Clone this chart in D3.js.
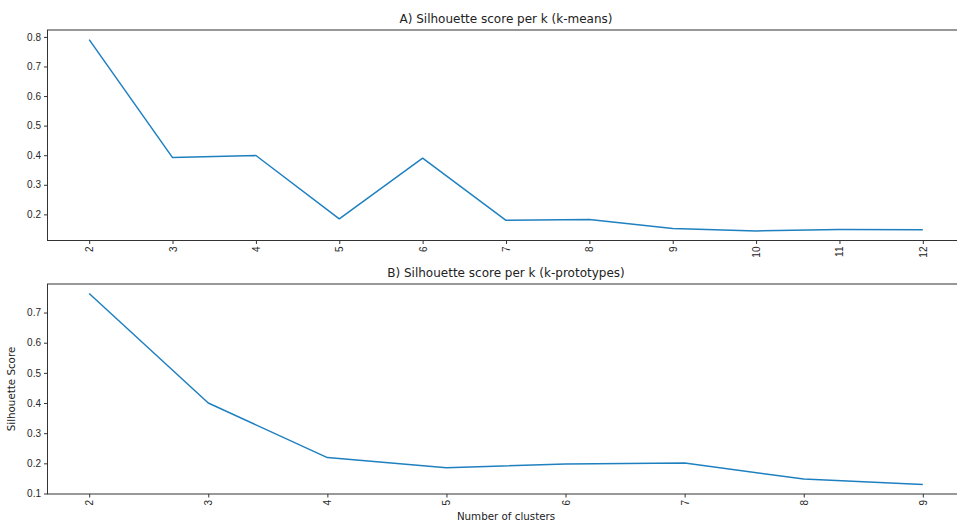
<!DOCTYPE html>
<html>
<head>
<meta charset="utf-8">
<style>
  body { margin: 0; background: #fff; }
  svg { display: block; font-family: "DejaVu Sans", sans-serif; }
  .tick text { fill: #262626; }
</style>
</head>
<body>
<svg id="chart" width="957" height="523"></svg>
<script src="https://cdn.jsdelivr.net/npm/d3@7/dist/d3.min.js"></script>
<script>

// A) k-means
var kmeansK = [2, 3, 4, 5, 6, 7, 8, 9, 10, 11, 12];
var kmeansScore = [0.791, 0.392, 0.399, 0.185, 0.390, 0.180, 0.183, 0.152, 0.144, 0.149, 0.148];

// B) k-prototypes
var kprotoK = [2, 3, 4, 5, 6, 7, 8, 9];
var kprotoScore = [0.763, 0.400, 0.219, 0.185, 0.198, 0.201, 0.148, 0.130];

var titles = ["A) Silhouette score per k (k-means)", "B) Silhouette score per k (k-prototypes)"];
var yTicksA = [0.2, 0.3, 0.4, 0.5, 0.6, 0.7, 0.8];
var yTicksB = [0.1, 0.2, 0.3, 0.4, 0.5, 0.6, 0.7];

var svg = d3.select("#chart");
var left = 47.5, right = 964.5;
var lineColor = "#1f80c0";

function panel(ks, scores, top, bottom, title, yTicks) {
  // matplotlib-style 5% margins on both axes
  var xpad = (d3.max(ks) - d3.min(ks)) * 0.05;
  var ext = d3.extent(scores), ypad = (ext[1] - ext[0]) * 0.05;

  var x = d3.scaleLinear()
      .domain([d3.min(ks) - xpad, d3.max(ks) + xpad])
      .range([left, right]);
  var y = d3.scaleLinear()
      .domain([ext[0] - ypad, ext[1] + ypad])
      .range([bottom, top]);

  var g = svg.append("g");

  g.append("rect")
      .attr("x", left).attr("y", top)
      .attr("width", right - left).attr("height", bottom - top)
      .attr("fill", "none")
      .attr("stroke", "#333")
      .attr("stroke-width", 1);

  var xAxis = g.append("g")
      .attr("transform", "translate(0," + bottom + ")")
      .call(d3.axisBottom(x).tickValues(ks).tickFormat(d3.format("d")).tickSize(3.5).tickPadding(3));
  xAxis.select(".domain").remove();
  xAxis.selectAll(".tick line").attr("stroke", "#333");
  xAxis.selectAll(".tick text")
      .attr("font-size", 10)
      .attr("transform", "rotate(-90)")
      .attr("text-anchor", "end")
      .attr("x", -6)
      .attr("y", 0)
      .attr("dy", "0.35em");

  var yAxis = g.append("g")
      .attr("transform", "translate(" + left + ",0)")
      .call(d3.axisLeft(y).tickValues(yTicks).tickFormat(d3.format(".1f")).tickSize(3.5).tickPadding(3));
  yAxis.select(".domain").remove();
  yAxis.selectAll(".tick line").attr("stroke", "#333");
  yAxis.selectAll(".tick text").attr("font-size", 10);

  var line = d3.line()
      .x(function(d, i) { return x(ks[i]); })
      .y(function(d) { return y(d); });

  g.append("path")
      .datum(scores)
      .attr("fill", "none")
      .attr("stroke", lineColor)
      .attr("stroke-width", 1.5)
      .attr("stroke-linejoin", "round")
      .attr("d", line);

  g.append("text")
      .attr("x", (left + right) / 2)
      .attr("y", top - 7)
      .attr("text-anchor", "middle")
      .attr("font-size", 12)
      .attr("fill", "#222")
      .text(title);

  return { x: x, y: y };
}

panel(kmeansK, kmeansScore, 30, 240.5, titles[0], yTicksA);
panel(kprotoK, kprotoScore, 284, 494, titles[1], yTicksB);

svg.append("text")
    .attr("x", (left + right) / 2)
    .attr("y", 520)
    .attr("text-anchor", "middle")
    .attr("font-size", 10.3)
    .attr("fill", "#222")
    .text("Number of clusters");

svg.append("text")
    .attr("transform", "translate(15,389) rotate(-90)")
    .attr("text-anchor", "middle")
    .attr("font-size", 10.3)
    .attr("fill", "#222")
    .text("Silhouette Score");

</script>
</body>
</html>
